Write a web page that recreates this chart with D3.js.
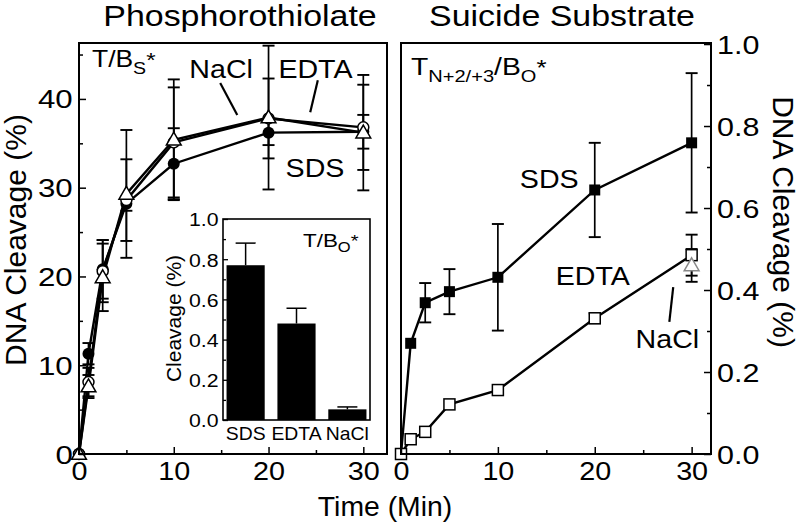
<!DOCTYPE html>
<html><head><meta charset="utf-8">
<script src="https://cdn.jsdelivr.net/npm/d3@7"></script>
<style>
body{margin:0;background:#fff;}
svg text{font-family:"Liberation Sans",Arial,Helvetica,sans-serif;fill:#000;}
</style></head>
<body><svg id="c" width="800" height="527"></svg>
<script>
// ---------- data ----------
const times = [0, 1, 2.5, 5, 10, 20, 30];
// Phosphorothiolate panel (T/Bs*), DNA cleavage %
const phosSDS      = [0, 11.3, 20.8, 28.2, 32.7, 36.2, 36.3];
const phosSDSErr   = [0, 1.2, 3.3, 0.8, 4.0, 1.4, 1.9];
const phosEDTA     = [0, 8.1, 20.6, 28.6, 35.1, 37.8, 36.8];
const phosEDTAErr  = [0, 1.6, 3.5, 4.6, 6.2, 4.5, 4.8];
const phosNaCl     = [0, 7.6, 19.9, 29.3, 35.4, 37.9, 36.2];
const phosNaClErr  = [0, 1.3, 3.8, 7.2, 6.8, 8.1, 6.5];
// Suicide substrate panel (T N+2/+3 / Bo*), DNA cleavage %
const suiSDS       = [0, 0.27, 0.369, 0.396, 0.431, 0.644, 0.759];
const suiSDSErr    = [0, 0, 0.048, 0.055, 0.13, 0.115, 0.17];
const suiEDTA      = [0, 0.036, 0.054, 0.121, 0.156, 0.331, 0.485];
const suiEDTAErr   = [0, 0, 0, 0, 0, 0.012, 0.05];
const suiNaClTime  = [30];
const suiNaCl      = [0.46];
const suiNaClErr   = [0.04];
// Inset (T/Bo*)
const insetCats    = ["SDS", "EDTA", "NaCl"];
const insetVals    = [0.77, 0.48, 0.053];
const insetErr     = [0.11, 0.076, 0.012];
// tick values
const leftYTicks   = [0, 10, 20, 30, 40];
const leftYMinor   = [5, 15, 25, 35, 45];
const xTicks       = [0, 10, 20, 30];
const xMinor       = [5, 15, 25];
const rightYTicks  = [0, 0.2, 0.4, 0.6, 0.8, 1.0];
const rightYMinor  = [0.1, 0.3, 0.5, 0.7, 0.9];
const insetYTicks  = [0, 0.2, 0.4, 0.6, 0.8, 1.0];
const insetYMinor  = [0.1, 0.3, 0.5, 0.7, 0.9];

// ---------- layout ----------
const svg = d3.select("#c");
const FONT = '"Liberation Sans",Arial,Helvetica,sans-serif';
const xL = d3.scaleLinear().domain([0, 32.5]).range([79, 387]);
const yL = d3.scaleLinear().domain([0, 46.3]).range([454, 43]);
const xR = d3.scaleLinear().domain([0, 32]).range([401, 711]);
const yR = d3.scaleLinear().domain([0, 1.0025]).range([454, 43]);
const xI = d3.scaleBand().domain(insetCats).range([224, 369]).paddingInner(0.25).paddingOuter(0.05);
const yI = d3.scaleLinear().domain([0, 1.0]).range([420, 219]);

function txt(g, x, y, s, size, opts = {}) {
  const sx = opts.sx || 1;
  const t = g.append("text")
    .attr("transform", `translate(${x},${y}) rotate(${opts.rot || 0}) scale(${sx},1)`)
    .attr("text-anchor", opts.anchor || "middle")
    .style("font-size", size + "px")
    .text(s);
  return t;
}

function frame(x0, y0, x1, y1, w) {
  svg.append("rect").attr("x", x0).attr("y", y0).attr("width", x1 - x0).attr("height", y1 - y0)
    .attr("fill", "none").attr("stroke", "#000").attr("stroke-width", w);
}

function styleAxis(g, size, sx, w) {
  g.select(".domain").remove();
  g.selectAll("line").attr("stroke", "#000").attr("stroke-width", w);
  g.selectAll("text").style("font-size", size + "px").style("font-family", FONT)
    .attr("transform", `scale(${sx},1)`);
}

// ---------- titles ----------
txt(svg, 240, 26, "Phosphorothiolate", 29, {sx: 1.17});
txt(svg, 562, 26, "Suicide Substrate", 29, {sx: 1.17});

// ---------- left panel ----------
const gL = svg.append("g");
// x axis
const axXL = svg.append("g").attr("transform", "translate(0,454)")
  .call(d3.axisBottom(xL).tickValues(xTicks).tickSize(-7).tickPadding(8).tickFormat(d3.format("d")));
styleAxis(axXL, 25, 1.15, 1.5);
const axXLm = svg.append("g").attr("transform", "translate(0,454)")
  .call(d3.axisBottom(xL).tickValues(xMinor).tickSize(-4).tickFormat(""));
styleAxis(axXLm, 10, 1, 1.5);
// y axis
const axYL = svg.append("g").attr("transform", "translate(79,0)")
  .call(d3.axisLeft(yL).tickValues(leftYTicks).tickSize(-7).tickPadding(5).tickFormat(d3.format("d")));
styleAxis(axYL, 25, 1.25, 1.5);
axYL.selectAll("text").attr("dy", "0.36em");
const axYLm = svg.append("g").attr("transform", "translate(79,0)")
  .call(d3.axisLeft(yL).tickValues(leftYMinor).tickSize(-4).tickFormat(""));
styleAxis(axYLm, 10, 1, 1.5);

// series
const phosSeries = [
  {v: phosSDS, e: phosSDSErr, m: "fcircle"},
  {v: phosEDTA, e: phosEDTAErr, m: "ocircle"},
  {v: phosNaCl, e: phosNaClErr, m: "otri"},
];
const line = (xs, ys) => d3.line().x(d => xs(d[0])).y(d => ys(d[1]));

function errBars(g, xs, ys, tArr, vArr, eArr, col) {
  tArr.forEach((t, i) => {
    const e = eArr[i];
    if (!e) return;
    const x = xs(t), y1 = ys(vArr[i] + e), y0 = ys(vArr[i] - e);
    g.append("line").attr("x1", x).attr("x2", x).attr("y1", y1).attr("y2", y0).attr("stroke", col).attr("stroke-width", 1.7);
    [y1, y0].forEach(y => g.append("line").attr("x1", x - 6).attr("x2", x + 6).attr("y1", y).attr("y2", y).attr("stroke", col).attr("stroke-width", 1.9));
  });
}
function marker(g, type, x, y, col) {
  col = col || "#000";
  if (type === "fcircle") g.append("circle").attr("cx", x).attr("cy", y).attr("r", 6).attr("fill", "#000");
  else if (type === "ocircle") g.append("circle").attr("cx", x).attr("cy", y).attr("r", 5.5).attr("fill", "#fff").attr("stroke", col).attr("stroke-width", 1.5);
  else if (type === "otri") g.append("path").attr("d", d3.symbol().type(d3.symbolTriangle).size(95)()).attr("transform", `translate(${x},${y + 1})`).attr("fill", "#fff").attr("stroke", col).attr("stroke-width", 1.5);
  else if (type === "fsquare") g.append("rect").attr("x", x - 5.5).attr("y", y - 5.5).attr("width", 11).attr("height", 11).attr("fill", "#000");
  else if (type === "osquare") g.append("rect").attr("x", x - 5.5).attr("y", y - 5.5).attr("width", 11).attr("height", 11).attr("fill", "#fff").attr("stroke", col).attr("stroke-width", 1.5);
}

phosSeries.forEach(s => errBars(gL, xL, yL, times, s.v, s.e, "#000"));
phosSeries.forEach(s => {
  gL.append("path").datum(times.map((t, i) => [t, s.v[i]])).attr("d", line(xL, yL))
    .attr("fill", "none").attr("stroke", "#000").attr("stroke-width", 2.4);
});
phosSeries.forEach(s => times.forEach((t, i) => marker(gL, s.m, xL(t), yL(s.v[i]))));

// annotations left
const tl = txt(svg, 92, 67, "", 23, {anchor: "start", sx: 1.15});
tl.append("tspan").text("T/B");
tl.append("tspan").attr("dy", 7).style("font-size", "17px").text("S");
tl.append("tspan").attr("dy", -7).style("font-size", "21px").text("*");
const leftLabels = [
  {t: 15.0, v: 42.4, s: "NaCl"}, {t: 24.95, v: 42.4, s: "EDTA"}, {t: 24.9, v: 31.2, s: "SDS"}
];
leftLabels.forEach(d => txt(svg, xL(d.t), yL(d.v), d.s, 26, {sx: 1.1}));
const leftPointers = [
  [[14.9, 41.8], [16.7, 38.2]], [[25.2, 42.1], [24.4, 38.5]]
];
leftPointers.forEach(p => svg.append("line").attr("x1", xL(p[0][0])).attr("y1", yL(p[0][1]))
  .attr("x2", xL(p[1][0])).attr("y2", yL(p[1][1])).attr("stroke", "#000").attr("stroke-width", 2.2));

// ---------- inset ----------
const gI = svg.append("g");
gI.append("rect").attr("x", 223).attr("y", 219).attr("width", 147).attr("height", 201).attr("fill", "#fff");
insetCats.forEach((c, i) => {
  const cx = xI(c) + xI.bandwidth() / 2;
  gI.append("line").attr("x1", cx).attr("x2", cx).attr("y1", yI(insetVals[i])).attr("y2", yI(insetVals[i] + insetErr[i])).attr("stroke", "#000").attr("stroke-width", 1.5);
  gI.append("line").attr("x1", cx - 10).attr("x2", cx + 10).attr("y1", yI(insetVals[i] + insetErr[i])).attr("y2", yI(insetVals[i] + insetErr[i])).attr("stroke", "#000").attr("stroke-width", 1.5);
  gI.append("rect").attr("x", xI(c)).attr("y", yI(insetVals[i])).attr("width", xI.bandwidth()).attr("height", yI(0) - yI(insetVals[i])).attr("fill", "#000");
  txt(gI, cx, 440, c, 19, {sx: 1.02});
});
const axYI = gI.append("g").attr("transform", "translate(223,0)")
  .call(d3.axisLeft(yI).tickValues(insetYTicks).tickSize(-5).tickPadding(4).tickFormat(d3.format(".1f")));
styleAxis(axYI, 19, 1.12, 1.3);
axYI.selectAll("text").attr("dy", "0.36em");
const axYIm = gI.append("g").attr("transform", "translate(223,0)")
  .call(d3.axisLeft(yI).tickValues(insetYMinor).tickSize(-3).tickFormat(""));
styleAxis(axYIm, 10, 1, 1.3);
frame(223, 219, 370, 420, 1.6);
txt(gI, 181, (257 + 380) / 2, "Cleavage (%)", 21, {rot: -90});
const ti = txt(gI, 303, 247, "", 19, {anchor: "start", sx: 1.18});
ti.append("tspan").text("T/B");
ti.append("tspan").attr("dy", 5).style("font-size", "14px").text("O");
ti.append("tspan").attr("dy", -5).style("font-size", "17px").text("*");

frame(79, 43, 387, 454, 2);

// ---------- right panel ----------
const gR = svg.append("g");
const axXR = svg.append("g").attr("transform", "translate(0,454)")
  .call(d3.axisBottom(xR).tickValues(xTicks).tickSize(-7).tickPadding(8).tickFormat(d3.format("d")));
styleAxis(axXR, 25, 1.15, 1.5);
const axXRm = svg.append("g").attr("transform", "translate(0,454)")
  .call(d3.axisBottom(xR).tickValues(xMinor).tickSize(-4).tickFormat(""));
styleAxis(axXRm, 10, 1, 1.5);
const axYR = svg.append("g").attr("transform", "translate(711,0)")
  .call(d3.axisRight(yR).tickValues(rightYTicks).tickSize(-7).tickPadding(5).tickFormat(d3.format(".1f")));
styleAxis(axYR, 25, 1.22, 1.5);
axYR.selectAll("text").attr("dy", "0.36em");
const axYRm = svg.append("g").attr("transform", "translate(711,0)")
  .call(d3.axisRight(yR).tickValues(rightYMinor).tickSize(-4).tickFormat(""));
styleAxis(axYRm, 10, 1, 1.5);

errBars(gR, xR, yR, times, suiSDS, suiSDSErr, "#000");
errBars(gR, xR, yR, times, suiEDTA, suiEDTAErr, "#000");
errBars(gR, xR, yR, suiNaClTime, suiNaCl, suiNaClErr, "#000");
[suiSDS, suiEDTA].forEach(v => gR.append("path").datum(times.map((t, i) => [t, v[i]])).attr("d", line(xR, yR))
  .attr("fill", "none").attr("stroke", "#000").attr("stroke-width", 2.4));
times.forEach((t, i) => marker(gR, "fsquare", xR(t), yR(suiSDS[i])));
times.forEach((t, i) => marker(gR, "osquare", xR(t), yR(suiEDTA[i])));
suiNaClTime.forEach((t, i) => marker(gR, "otri", xR(t), yR(suiNaCl[i]), "#888"));

const tr = txt(svg, 411, 75, "", 24, {anchor: "start", sx: 1.18});
tr.append("tspan").text("T");
tr.append("tspan").attr("dy", 7).style("font-size", "17px").text("N+2/+3");
tr.append("tspan").attr("dy", -7).text("/B");
tr.append("tspan").attr("dy", 7).style("font-size", "17px").text("O");
tr.append("tspan").attr("dy", -7).style("font-size", "22px").text("*");
const rightLabels = [
  {t: 15.3, v: 0.649, s: "SDS"}, {t: 19.8, v: 0.412, s: "EDTA"}, {t: 27.5, v: 0.259, s: "NaCl"}
];
rightLabels.forEach(d => txt(svg, xR(d.t), yR(d.v), d.s, 26, {sx: 1.1}));
const rightPointers = [[[28.1, 0.407], [27.7, 0.322]]];
rightPointers.forEach(p => svg.append("line").attr("x1", xR(p[0][0])).attr("y1", yR(p[0][1]))
  .attr("x2", xR(p[1][0])).attr("y2", yR(p[1][1])).attr("stroke", "#000").attr("stroke-width", 2.2));

frame(401, 43, 711, 454, 2);

// ---------- axis titles ----------
txt(svg, 385, 516, "Time (Min)", 27, {sx: 1.05});
txt(svg, 26, 240, "DNA Cleavage (%)", 30, {rot: -90});
txt(svg, 773, 222, "DNA Cleavage (%)", 30, {rot: 90});
</script></body></html>
